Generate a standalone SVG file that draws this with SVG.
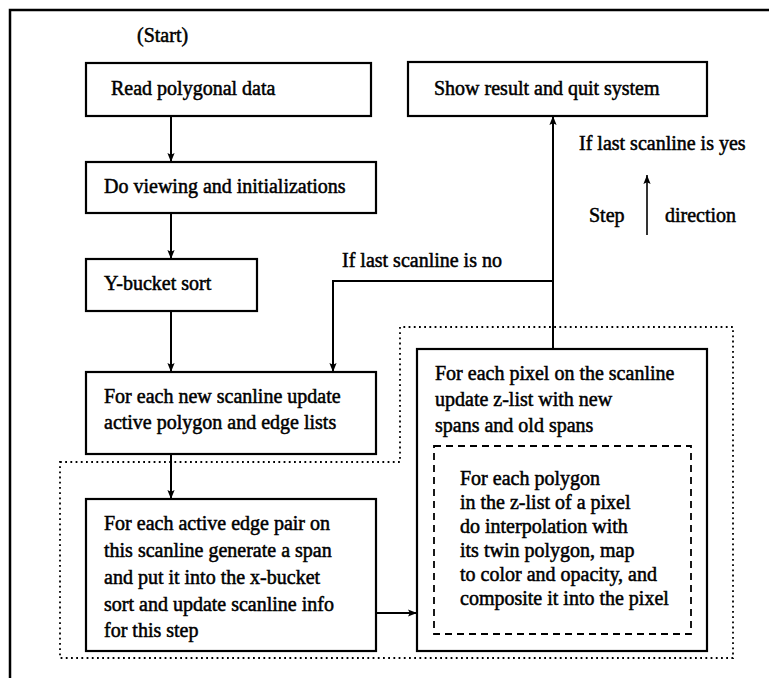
<svg xmlns="http://www.w3.org/2000/svg" width="769" height="678" viewBox="0 0 769 678">
<style>
text{font-family:"Liberation Serif","Times New Roman",serif;font-size:20px;fill:#000;stroke:#000;stroke-width:0.5}
.box{fill:none;stroke:#000;stroke-width:2.2}
.frame{fill:none;stroke:#000;stroke-width:2.5}
.dot{fill:none;stroke:#000;stroke-width:1.8;stroke-dasharray:1.8 3.4}
.dash{fill:none;stroke:#000;stroke-width:1.8;stroke-dasharray:7 5}
.conn{fill:none;stroke:#000;stroke-width:2}
</style>
<defs>
<marker id="ah" viewBox="0 0 10 10" refX="10" refY="5" markerWidth="10" markerHeight="9" markerUnits="userSpaceOnUse" orient="auto">
<path d="M0,1 L10,5 L0,9 L2,5 Z" fill="#000"/>
</marker>
</defs>
<rect width="769" height="678" fill="#fff"/>
<g id="frame">
<path class="frame" d="M10,678 L10,10 L769,10"/>
</g>
<g id="regions">
<path class="dot" d="M60,462 L400,462 L400,327 L733,327 L733,658 L60,658 Z"/>
</g>
<g id="start"><text x="137" y="42">(Start)</text></g>
<g id="read"><rect class="box" x="86" y="63" width="285" height="53"/><text x="111" y="95">Read polygonal data</text></g>
<g id="viewing"><rect class="box" x="86" y="162" width="290" height="51"/><text x="104" y="193">Do viewing and initializations</text></g>
<g id="ybucket"><rect class="box" x="86" y="259" width="171" height="52"/><text x="104" y="290">Y-bucket sort</text></g>
<g id="newscan"><rect class="box" x="86" y="372" width="290" height="82"/><text x="104" y="403">For each new scanline update</text><text x="104" y="429">active polygon and edge lists</text></g>
<g id="edgepair"><rect class="box" x="86" y="499" width="290" height="152"/>
<text x="104" y="530">For each active edge pair on</text>
<text x="104" y="557">this scanline generate a span</text>
<text x="104" y="584">and put it into the x-bucket</text>
<text x="104" y="611">sort and update scanline info</text>
<text x="104" y="637">for this step</text></g>
<g id="show"><rect class="box" x="408" y="62" width="299" height="54"/><text x="434" y="95">Show result and quit system</text></g>
<g id="pixel"><rect class="box" x="417" y="349" width="290" height="302"/>
<text x="435" y="380">For each pixel on the scanline</text>
<text x="435" y="406">update z-list with new</text>
<text x="435" y="432">spans and old spans</text></g>
<g id="polygon"><rect class="dash" x="434" y="446" width="257" height="188"/>
<text x="460" y="485">For each polygon</text>
<text x="460" y="509">in the z-list of a pixel</text>
<text x="460" y="533">do interpolation with</text>
<text x="460" y="557">its twin polygon, map</text>
<text x="460" y="581">to color and opacity, and</text>
<text x="460" y="605">composite it into the pixel</text></g>
<g id="labels">
<text x="342" y="267">If last scanline is no</text>
<text x="579" y="150">If last scanline is yes</text>
<text x="589" y="222">Step</text>
<text x="665" y="222">direction</text>
</g>
<g id="connectors">
<path class="conn" d="M171,116 L171,162" marker-end="url(#ah)"/>
<path class="conn" d="M171,213 L171,259" marker-end="url(#ah)"/>
<path class="conn" d="M171,311 L171,372" marker-end="url(#ah)"/>
<path class="conn" d="M171,454 L171,499" marker-end="url(#ah)"/>
<path class="conn" d="M376,613 L417,613" marker-end="url(#ah)"/>
<path class="conn" d="M553,349 L553,116" marker-end="url(#ah)"/>
<path class="conn" d="M553,281 L333,281 L333,372" marker-end="url(#ah)"/>
<path class="conn" style="stroke-width:1.6" d="M647,235 L647,175" marker-end="url(#ah)"/>
</g>
</svg>
